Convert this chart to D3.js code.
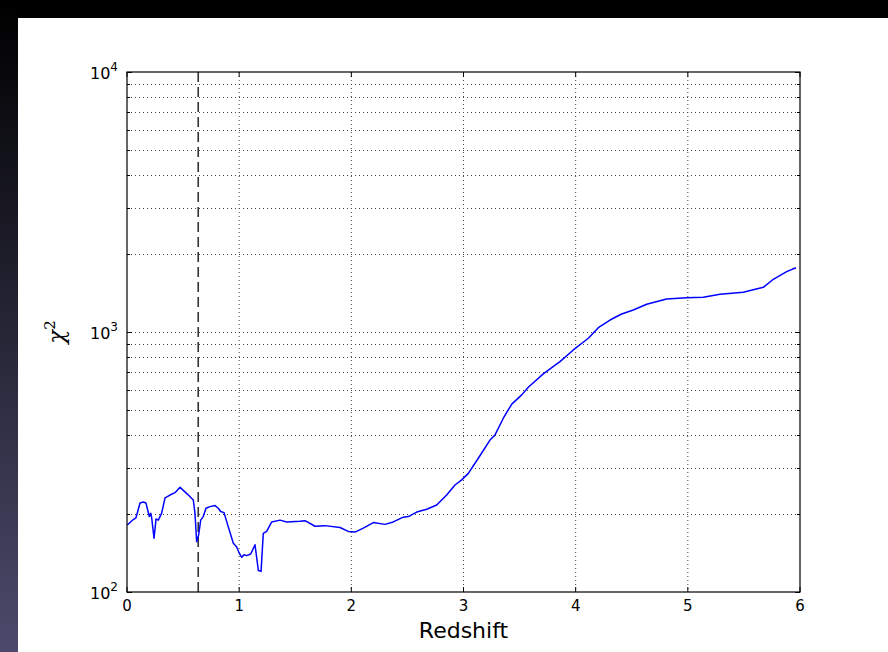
<!DOCTYPE html>
<html>
<head>
    <script src="https://cdnjs.cloudflare.com/ajax/libs/d3/7.8.5/d3.min.js"></script>
    <style>
        body { margin: 0; background: #fff; }
        svg text { font-family: "DejaVu Sans", sans-serif; fill: #000; }
        .grid line { stroke: #444; stroke-width: 1; stroke-dasharray: 1,3; }
    </style>
</head>
<body>
    <div id="chart"></div>
    <script>
        const width = 888, height = 652;
        const margin = { top: 72, right: 88, bottom: 60, left: 127 };

        // redshift grid and chi^2 values
        const redshift = [0.003, 0.056, 0.080, 0.116, 0.145, 0.169, 0.199, 0.211, 0.220, 0.241, 0.259, 0.279,
            0.309, 0.339, 0.383, 0.428, 0.473, 0.497, 0.538, 0.591, 0.606, 0.621, 0.639, 0.657, 0.680, 0.704,
            0.740, 0.785, 0.814, 0.835, 0.865, 0.903, 0.948, 0.978, 1.001, 1.023, 1.043, 1.067, 1.103, 1.141,
            1.171, 1.195, 1.215, 1.245, 1.290, 1.364, 1.424, 1.542, 1.587, 1.676, 1.765, 1.899, 1.973, 2.033,
            2.107, 2.196, 2.300, 2.374, 2.463, 2.508, 2.583, 2.672, 2.761, 2.850, 2.924, 2.984, 3.043, 3.132,
            3.236, 3.281, 3.355, 3.430, 3.519, 3.578, 3.711, 3.860, 3.979, 4.113, 4.202, 4.306, 4.410, 4.514,
            4.633, 4.811, 4.990, 5.138, 5.287, 5.494, 5.673, 5.762, 5.881, 5.964];
        const chi2 = [181, 190, 193, 220, 222, 220, 195, 201, 193, 161, 191, 189,
            201, 230, 236, 241, 253, 247, 238, 226, 201, 156, 166, 189, 195, 210,
            213, 215, 210, 204, 202, 178, 154, 149, 141, 136, 139, 138, 140, 152,
            121, 120, 168, 171, 186, 189, 186, 187, 188, 179, 180, 177, 171, 170,
            176, 185, 182, 186, 194, 195, 203, 208, 216, 236, 258, 270, 286, 327,
            384, 402, 466, 528, 573, 613, 690, 769, 853, 946, 1039, 1112, 1173, 1215,
            1278, 1340, 1355, 1360, 1396, 1421, 1485, 1595, 1706, 1767];
        const markerZ = 0.635;
        const xTicks = [0, 1, 2, 3, 4, 5, 6];
        const yMajor = [100, 1000, 10000];
        const yExp = ["2", "3", "4"];

        const svg = d3.select("#chart").append("svg").attr("width", width).attr("height", height);

        // slide background: black top band and dark gradient on the left
        const defs = svg.append("defs");
        const grad = defs.append("linearGradient").attr("id", "side")
            .attr("x1", 0).attr("y1", 0).attr("x2", 0).attr("y2", 1);
        grad.append("stop").attr("offset", "0%").attr("stop-color", "#000");
        grad.append("stop").attr("offset", "100%").attr("stop-color", "#4b4a6b");
        svg.append("rect").attr("width", width).attr("height", height).attr("fill", "#fff");
        svg.append("rect").attr("width", width).attr("height", 18).attr("fill", "#000");
        svg.append("rect").attr("width", 18).attr("height", height).attr("fill", "url(#side)");

        const x = d3.scaleLinear().domain([0, 6]).range([margin.left, width - margin.right]);
        const y = d3.scaleLog().domain([100, 10000]).range([height - margin.bottom, margin.top]);

        const yMinor = [];
        [100, 1000].forEach(b => { for (let k = 2; k <= 9; k++) yMinor.push(b * k); });

        // grid
        const grid = svg.append("g").attr("class", "grid");
        grid.selectAll(".gx").data(xTicks.slice(1, -1)).enter().append("line")
            .attr("x1", d => x(d)).attr("x2", d => x(d))
            .attr("y1", y(10000)).attr("y2", y(100));
        grid.selectAll(".gy").data(yMinor.concat([1000])).enter().append("line")
            .attr("x1", x(0)).attr("x2", x(6))
            .attr("y1", d => Math.round(y(d)) + 0.5).attr("y2", d => Math.round(y(d)) + 0.5);

        // dashed marker line
        svg.append("line")
            .attr("x1", x(markerZ)).attr("x2", x(markerZ))
            .attr("y1", y(10000)).attr("y2", y(100))
            .attr("stroke", "#333").attr("stroke-width", 1.6)
            .attr("stroke-dasharray", "10,5");

        // data curve
        const line = d3.line().x((d, i) => x(redshift[i])).y(d => y(d));
        svg.append("path").datum(chi2)
            .attr("d", line)
            .attr("fill", "none")
            .attr("stroke", "#0000ff")
            .attr("stroke-width", 1.5)
            .attr("stroke-linejoin", "round");

        // frame
        svg.append("rect")
            .attr("x", x(0)).attr("y", y(10000))
            .attr("width", x(6) - x(0)).attr("height", y(100) - y(10000))
            .attr("fill", "none").attr("stroke", "#000").attr("stroke-width", 1.2);

        // inward ticks on all sides
        const ticks = svg.append("g").attr("stroke", "#000").attr("stroke-width", 1);
        xTicks.forEach(t => {
            ticks.append("line").attr("x1", x(t)).attr("x2", x(t)).attr("y1", y(100)).attr("y2", y(100) - 5);
            ticks.append("line").attr("x1", x(t)).attr("x2", x(t)).attr("y1", y(10000)).attr("y2", y(10000) + 5);
        });
        yMajor.concat(yMinor).forEach(v => {
            const len = yMajor.includes(v) ? 5 : 3;
            const yy = Math.round(y(v)) + 0.5;
            ticks.append("line").attr("x1", x(0)).attr("x2", x(0) + len).attr("y1", yy).attr("y2", yy);
            ticks.append("line").attr("x1", x(6)).attr("x2", x(6) - len).attr("y1", yy).attr("y2", yy);
        });

        // tick labels
        svg.selectAll(".xl").data(xTicks).enter().append("text")
            .attr("x", d => x(d)).attr("y", y(100) + 19)
            .attr("text-anchor", "middle").style("font-size", "15px")
            .text(d => d);

        yMajor.forEach((v, i) => {
            const t = svg.append("text")
                .attr("x", x(0) - 9).attr("y", y(v) + 7)
                .attr("text-anchor", "end").style("font-size", "16px");
            t.append("tspan").text("10");
            t.append("tspan").attr("dy", -8).style("font-size", "12px").text(yExp[i]);
        });

        // axis labels
        svg.append("text")
            .attr("x", (x(0) + x(6)) / 2).attr("y", 638)
            .attr("text-anchor", "middle").style("font-size", "22px")
            .text("Redshift");

        const yl = svg.append("text")
            .attr("transform", `translate(64,${(y(100) + y(10000)) / 2}) rotate(-90)`)
            .attr("text-anchor", "middle")
            .style("font-family", "'DejaVu Serif', serif").style("font-size", "23px");
        yl.append("tspan").style("font-style", "italic").text("χ");
        yl.append("tspan").attr("dy", -9).style("font-size", "15px").text("2");
    </script>
</body>
</html>
